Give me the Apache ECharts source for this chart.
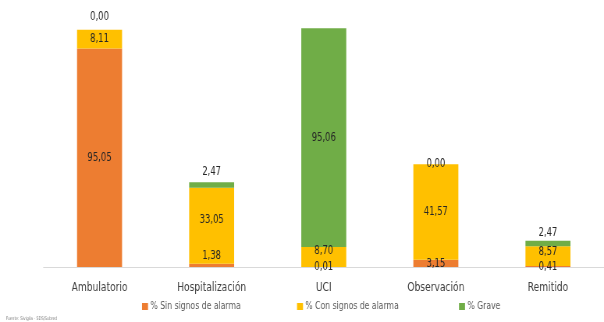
<!DOCTYPE html>
<html>
<head>
<meta charset="utf-8">
<style>
  html, body { margin: 0; padding: 0; background: #ffffff; overflow: hidden; }
  #wrap { width: 604px; height: 322px; overflow: hidden; }
  /* the chart is laid out wider and squeezed horizontally, giving narrow type */
  #chart { width: 774px; height: 322px; transform: scaleX(0.78036); transform-origin: 0 0; }
</style>
<script src="https://cdn.jsdelivr.net/npm/echarts@6/dist/echarts.min.js"></script>
</head>
<body>
<div id="wrap"><div id="chart"></div></div>
<script>
// Distribución porcentual por servicio de atención
const categories = ['Ambulatorio', 'Hospitalización', 'UCI', 'Observación', 'Remitido'];
const seriesNames = ['% Sin signos de alarma', '% Con signos de alarma', '% Grave'];
const sinSignos = [95.05, 1.38, 0.01, 3.15, 0.41];
const conSignos = [8.11, 33.05, 8.70, 41.57, 8.57];
const grave = [0.00, 2.47, 95.06, 0.00, 2.47];

const SX = 604 / 774;               // horizontal squeeze factor
const px = v => v / SX;             // screen x-distance -> layout x-distance

const colors = ['#ED7D31', '#FFC000', '#70AD47'];
const FONT = '"DejaVu Sans Condensed", "DejaVu Sans", sans-serif';

// vertical nudges for labels that sit off their segment's centre
const labelShift = {
  0: { 1: -10 },
  1: { 1: -6, 2: -6, 4: -4 },
  2: { 0: -13, 1: -13, 4: -11 }
};

const fmt = v => v.toFixed(2).replace('.', ',');

function buildSeries(values, idx) {
  return {
    name: seriesNames[idx],
    type: 'bar',
    stack: 'total',
    barWidth: px(45),
    itemStyle: { color: colors[idx] },
    label: {
      show: true,
      position: 'inside',
      fontFamily: FONT,
      fontSize: 12,
      color: '#262626',
      formatter: p => fmt(p.value)
    },
    data: values.map((v, i) => {
      const dy = (labelShift[idx] && labelShift[idx][i]) || 0;
      return dy ? { value: v, label: { offset: [0, dy] } } : v;
    })
  };
}

const legendLefts = [142, 297, 459];

const chart = echarts.init(document.getElementById('chart'), null, { renderer: 'canvas', width: 774, height: 322 });
chart.setOption({
  animation: false,
  grid: { left: px(43.5), right: -px(3.5), top: 14, bottom: 55 },
  xAxis: {
    type: 'category',
    data: categories,
    axisLine: { lineStyle: { color: '#D9D9D9', width: 1 } },
    axisTick: { show: false },
    axisLabel: { fontFamily: FONT, fontSize: 13, color: '#404040', margin: 14 }
  },
  yAxis: {
    type: 'value',
    min: 0,
    max: 110,
    show: false
  },
  legend: seriesNames.map((n, i) => ({
    data: [n],
    left: px(legendLefts[i]),
    top: 301,
    padding: 0,
    itemWidth: px(6),
    itemHeight: 7,
    itemGap: 0,
    icon: 'rect',
    textStyle: { fontFamily: FONT, fontSize: 11, color: '#595959', padding: [0, 0, 0, -2] }
  })),
  graphic: [{
    type: 'text',
    left: px(6),
    top: 316,
    style: { text: 'Fuente: Sivigila - SDS/Subred', font: '5px ' + FONT, fill: '#7F7F7F' }
  }],
  series: [
    buildSeries(sinSignos, 0),
    buildSeries(conSignos, 1),
    buildSeries(grave, 2)
  ]
});
</script>
</body>
</html>
